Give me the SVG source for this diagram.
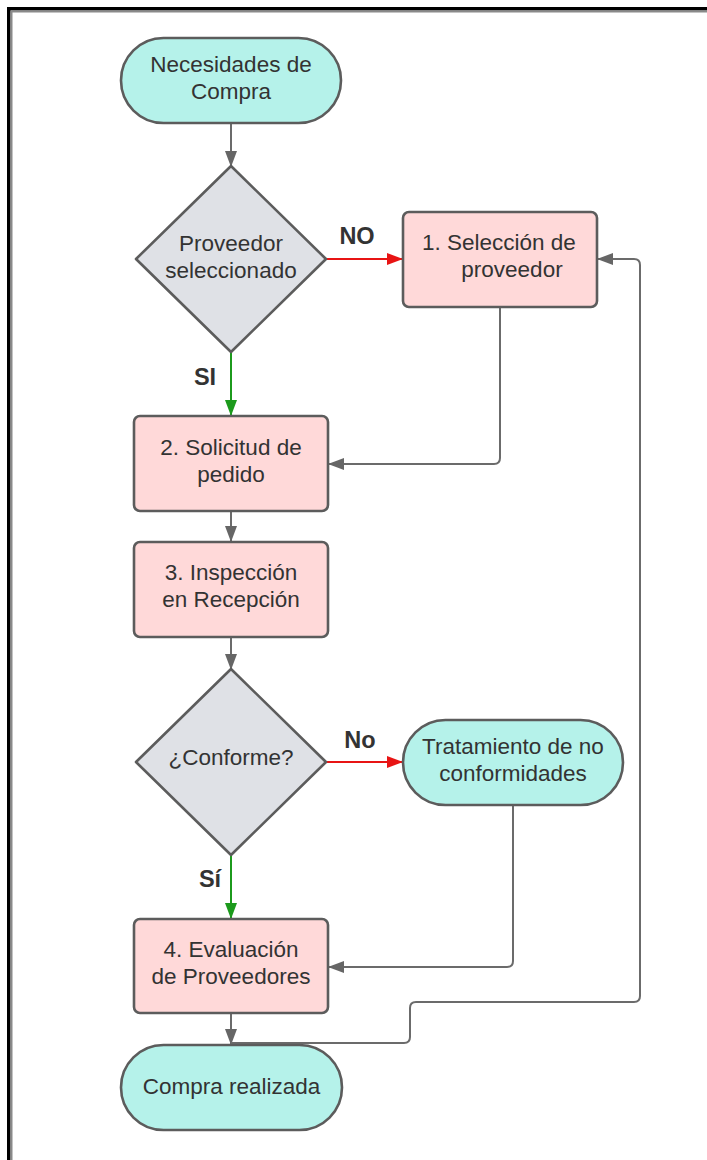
<svg xmlns="http://www.w3.org/2000/svg" width="707" height="1160" viewBox="0 0 707 1160">
<style>
.term{fill:#b5f2ea;stroke:#5c5c5c;stroke-width:2.6}
.proc{fill:#ffd9d9;stroke:#5c5c5c;stroke-width:2.6}
.dec{fill:#dfe1e6;stroke:#5c5c5c;stroke-width:2.6;stroke-linejoin:round}
.t{font-family:"Liberation Sans",Arial,sans-serif;font-size:22.5px;fill:#333333;text-anchor:middle}
.lbl{font-family:"Liberation Sans",Arial,sans-serif;font-size:23.5px;font-weight:bold;fill:#333333;text-anchor:middle}
.c{fill:none;stroke:#6b6b6b;stroke-width:2}
.cr{fill:none;stroke:#e81414;stroke-width:2}
.cg{fill:none;stroke:#1c9a1c;stroke-width:2}
</style>
<defs>
<marker id="ag" markerUnits="userSpaceOnUse" markerWidth="16" markerHeight="12" refX="15" refY="6" orient="auto"><path d="M0,0 L16,6 L0,12 z" fill="#666666"/></marker>
<marker id="ar" markerUnits="userSpaceOnUse" markerWidth="16" markerHeight="12" refX="15" refY="6" orient="auto"><path d="M0,0 L16,6 L0,12 z" fill="#e81414"/></marker>
<marker id="agr" markerUnits="userSpaceOnUse" markerWidth="16" markerHeight="12" refX="15" refY="6" orient="auto"><path d="M0,0 L16,6 L0,12 z" fill="#1c9a1c"/></marker>
</defs>
<rect x="0" y="0" width="707" height="1160" fill="#ffffff"/>
<g id="frame">
<rect x="7" y="7" width="700" height="3.5" fill="#000000"/>
<rect x="10.5" y="10.5" width="696.5" height="2" fill="#8a8a8a"/>
<rect x="7" y="7" width="3.5" height="1153" fill="#000000"/>
<rect x="10.5" y="10.5" width="2" height="1149.5" fill="#8a8a8a"/>
</g>
<g id="connectors">
<path class="c" d="M231,123 V166" marker-end="url(#ag)"/>
<path class="cr" d="M326,259 H402" marker-end="url(#ar)"/>
<path class="cg" d="M231,352 V415" marker-end="url(#agr)"/>
<path class="c" d="M500,307 V458 Q500,464 494,464 H329" marker-end="url(#ag)"/>
<path class="c" d="M231,511 V541" marker-end="url(#ag)"/>
<path class="c" d="M231,637 V669" marker-end="url(#ag)"/>
<path class="cr" d="M326,762 H402" marker-end="url(#ar)"/>
<path class="cg" d="M231,855 V918" marker-end="url(#agr)"/>
<path class="c" d="M513,805 V961 Q513,967 507,967 H329" marker-end="url(#ag)"/>
<path class="c" d="M231,1013 V1044" marker-end="url(#ag)"/>
<path class="c" d="M231,1043 H404 Q410,1043 410,1037 V1008 Q410,1002 416,1002 H634 Q640,1002 640,996 V265 Q640,259 634,259 H598" marker-end="url(#ag)"/>
<text class="lbl" x="357" y="244">NO</text>
<text class="lbl" x="205" y="385">SI</text>
<text class="lbl" x="360" y="748">No</text>
<text class="lbl" x="210" y="887">Sí</text>
</g>
<g id="n-necesidades">
<rect class="term" x="121" y="38" width="220" height="85" rx="42.5"/>
<text class="t" x="231" y="72">Necesidades de</text>
<text class="t" x="231" y="99">Compra</text>
</g>
<g id="n-proveedor-sel">
<path class="dec" d="M231,166 L326,259 L231,352 L136,259 z"/>
<text class="t" x="231" y="251">Proveedor</text>
<text class="t" x="231" y="278">seleccionado</text>
</g>
<g id="n-seleccion">
<rect class="proc" x="403" y="212" width="194" height="95" rx="6"/>
<text class="t" x="422" y="250" style="text-anchor:start">1. Selección de</text>
<text class="t" x="512" y="277">proveedor</text>
</g>
<g id="n-solicitud">
<rect class="proc" x="134" y="416" width="194" height="95" rx="6"/>
<text class="t" x="231" y="455">2. Solicitud de</text>
<text class="t" x="231" y="482">pedido</text>
</g>
<g id="n-inspeccion">
<rect class="proc" x="134" y="542" width="194" height="95" rx="6"/>
<text class="t" x="231" y="580">3. Inspección</text>
<text class="t" x="231" y="607">en Recepción</text>
</g>
<g id="n-conforme">
<path class="dec" d="M231,669 L326,762 L231,855 L136,762 z"/>
<text class="t" x="231" y="765">¿Conforme?</text>
</g>
<g id="n-tratamiento">
<rect class="term" x="403" y="720" width="220" height="85" rx="42.5"/>
<text class="t" x="513" y="754">Tratamiento de no</text>
<text class="t" x="513" y="781">conformidades</text>
</g>
<g id="n-evaluacion">
<rect class="proc" x="134" y="919" width="194" height="94" rx="6"/>
<text class="t" x="231" y="957">4. Evaluación</text>
<text class="t" x="231" y="984">de Proveedores</text>
</g>
<g id="n-compra">
<rect class="term" x="121" y="1045" width="221" height="85" rx="42.5"/>
<text class="t" x="231.5" y="1094">Compra realizada</text>
</g>
</svg>
